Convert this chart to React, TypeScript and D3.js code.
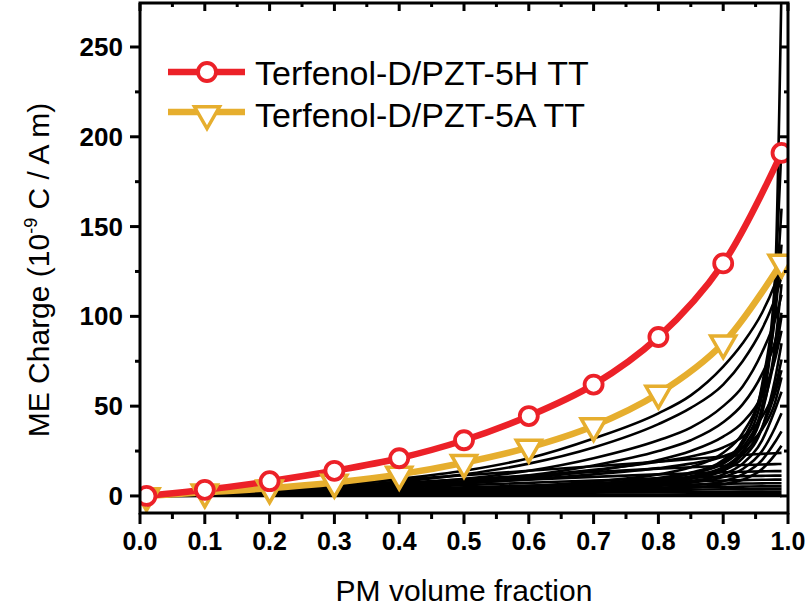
import React from "react";
import * as d3 from "d3";

// ---- data ----
const fracX = [0.01, 0.1, 0.2, 0.3, 0.4, 0.5, 0.6, 0.7, 0.8, 0.9, 0.99];
const pzt5H = [0, 3.4, 8.2, 14, 21, 31, 44.5, 62, 88.5, 129.5, 191];
const pzt5A = [0, 2, 4.3, 7.5, 12, 18.5, 27, 39, 57, 85, 130];

const gridX = [0.01, 0.1, 0.2, 0.3, 0.4, 0.5, 0.6, 0.7, 0.8, 0.85, 0.9, 0.93, 0.96, 0.98, 0.99];
const gradual1 = [0, 1.5, 3.5, 6, 9.5, 14, 21, 32, 46, 56, 72, 85, 102, 118, 128];
const gradual2 = [0, 1.3, 3, 5, 8, 12, 18, 27, 40, 49, 62, 75, 93, 110, 122];
const gradual3 = [0, 1.1, 2.5, 4, 6.5, 9.5, 14, 21, 31, 38, 50, 61, 80, 98, 112];
const gradual4 = [0, 1, 2.2, 3.5, 5.5, 8, 11.5, 17, 25, 31, 41, 51, 68, 86, 102];
const gradual5 = [0, 0.9, 2, 3, 4.7, 7, 10, 14, 20, 25, 33, 41, 56, 76, 92];
const medium1 = [0, 1.2, 2.6, 4.2, 6, 8.2, 11, 14.5, 19, 22, 27, 33, 44, 60, 76];
const medium2 = [0, 1, 2.2, 3.6, 5.2, 7, 9.3, 12, 15.5, 18, 22, 27, 37, 52, 66];
const steep1 = [0, 0.4, 0.9, 1.4, 2, 2.8, 4, 5.5, 8, 10, 15, 24, 50, 120, 285];
const steep2 = [0, 0.5, 1.1, 1.7, 2.5, 3.5, 5, 7, 10, 13, 20, 31, 62, 120, 195];
const steep3 = [0, 0.5, 1, 1.6, 2.3, 3.2, 4.5, 6.5, 9.5, 12.5, 19, 29, 56, 105, 160];
const steep4 = [0, 0.6, 1.2, 1.9, 2.8, 4, 5.5, 8, 12, 16, 24, 35, 60, 100, 140];
const steep5 = [0, 0.4, 0.8, 1.3, 1.9, 2.7, 3.8, 5.3, 8, 11, 16, 25, 46, 84, 118];
const steep6 = [0, 0.5, 1, 1.5, 2.2, 3, 4.3, 6, 9, 12.5, 18, 27, 48, 78, 100];
const steep7 = [0, 0.3, 0.7, 1.1, 1.6, 2.3, 3.3, 4.6, 7, 9.5, 14, 21, 38, 65, 85];
const steep8 = [0, 0.4, 0.9, 1.4, 2, 2.8, 4, 5.5, 8, 10.5, 15.5, 23, 38, 57, 70];
const steep9 = [0, 0.3, 0.6, 1, 1.5, 2.1, 3, 4.2, 6.2, 8.2, 12, 18, 31, 48, 58];
const steep10 = [0, 0.3, 0.6, 1, 1.4, 2, 2.8, 3.9, 5.6, 7.4, 10.5, 15, 25, 38, 46];
const steep11 = [0, 0.2, 0.5, 0.8, 1.1, 1.6, 2.2, 3, 4.4, 5.8, 8.2, 12, 20, 30, 36];
const steep12 = [0, 0.2, 0.4, 0.6, 0.9, 1.2, 1.7, 2.4, 3.5, 4.6, 6.5, 9, 15, 23, 28];
const flat1 = [0, 2, 4, 6.5, 9, 11.5, 14, 16.5, 19, 20.5, 22, 22.8, 23.4, 23.8, 24];
const flat2 = [0, 1.6, 3.3, 5.2, 7.2, 9.3, 11.3, 13.3, 15.2, 16, 16.8, 17.2, 17.5, 17.7, 17.8];
const flat3 = [0, 1.3, 2.7, 4.2, 5.8, 7.5, 9, 10.6, 12, 12.6, 13.2, 13.5, 13.7, 13.8, 13.8];
const flat4 = [0, 1.1, 2.2, 3.4, 4.7, 6, 7.3, 8.6, 9.8, 10.3, 10.8, 11, 11.2, 11.3, 11.3];
const flat5 = [0, 0.9, 1.8, 2.8, 3.8, 4.8, 5.8, 6.8, 7.8, 8.2, 8.6, 8.8, 9, 9.1, 9.1];
const flat6 = [0, 0.7, 1.4, 2.1, 2.9, 3.7, 4.5, 5.3, 6, 6.4, 6.7, 6.9, 7, 7.1, 7.1];
const flat7 = [0, 0.5, 1, 1.6, 2.2, 2.8, 3.4, 4, 4.6, 4.9, 5.1, 5.2, 5.3, 5.3, 5.3];
const flat8 = [0, 0.4, 0.8, 1.2, 1.6, 2, 2.5, 2.9, 3.3, 3.5, 3.7, 3.8, 3.8, 3.9, 3.9];
const flat9 = [0, 0.25, 0.5, 0.75, 1, 1.25, 1.5, 1.8, 2.1, 2.2, 2.3, 2.4, 2.4, 2.4, 2.4];
const flat10 = [0, 0.1, 0.2, 0.3, 0.4, 0.5, 0.6, 0.7, 0.8, 0.85, 0.9, 0.9, 0.9, 0.9, 0.9];
const flat11 = [0, 0, 0, 0, 0, 0, 0, 0, 0, 0, 0, 0, 0, 0, 0];

const blackCurves = [
  gradual1, gradual2, gradual3, gradual4, gradual5, medium1, medium2,
  steep1, steep2, steep3, steep4, steep5, steep6, steep7, steep8, steep9, steep10, steep11, steep12,
  flat1, flat2, flat3, flat4, flat5, flat6, flat7, flat8, flat9, flat10, flat11,
];

const xTicks = [0, 0.1, 0.2, 0.3, 0.4, 0.5, 0.6, 0.7, 0.8, 0.9, 1.0];
const xMinor = [0.05, 0.15, 0.25, 0.35, 0.45, 0.55, 0.65, 0.75, 0.85, 0.95];
const yTicks = [0, 50, 100, 150, 200, 250];
const yMinor = [25, 75, 125, 175, 225];

const seriesNames = ["Terfenol-D/PZT-5H TT", "Terfenol-D/PZT-5A TT"];
const RED = "#EC2128";
const GOLD = "#E6AE2E";

export default function App() {
  const L = 140, R = 788, T = 3, B = 513;
  const x = d3.scaleLinear().domain([0, 1]).range([L, R]);
  const y = d3.scaleLinear().domain([-9.5, 274.5]).range([B, T]);

  const line = d3
    .line<[number, number]>()
    .x((d) => x(d[0]))
    .y((d) => y(d[1]))
    .curve(d3.curveMonotoneX);

  const smooth = d3
    .line<[number, number]>()
    .x((d) => x(d[0]))
    .y((d) => y(d[1]))
    .curve(d3.curveCatmullRom.alpha(0.5));

  const redPts = fracX.map((v, i) => [v, pzt5H[i]] as [number, number]);
  const goldPts = fracX.map((v, i) => [v, pzt5A[i]] as [number, number]);

  const tri = (cx: number, cy: number, w: number) => {
    const h = w * 0.87;
    return `M${cx - w / 2},${cy - h / 3}L${cx + w / 2},${cy - h / 3}L${cx},${cy + (2 * h) / 3}Z`;
  };

  const font = "'Liberation Sans', Arial, sans-serif";

  return (
    <svg
      width={805}
      height={612}
      style={{ position: "absolute", left: 0, top: 0, background: "#fff" }}
      fontFamily={font}
    >
      <defs>
        <clipPath id="plot">
          <rect x={L} y={T} width={R - L} height={B - T} />
        </clipPath>
      </defs>
      <rect x={0} y={0} width={805} height={612} fill="#fff" />

      <g clipPath="url(#plot)">
        {blackCurves.map((c, i) => (
          <path
            key={i}
            d={line(gridX.map((v, j) => [v, c[j]] as [number, number])) || ""}
            fill="none"
            stroke="#000"
            strokeWidth={2.6}
          />
        ))}
        <path d={smooth(goldPts) || ""} fill="none" stroke={GOLD} strokeWidth={6.5} />
        <path d={smooth(redPts) || ""} fill="none" stroke={RED} strokeWidth={6.5} />
        {goldPts.map((p, i) => (
          <path key={"g" + i} d={tri(x(p[0]), y(p[1]), 25)} fill="#fff" stroke={GOLD} strokeWidth={3.5} />
        ))}
        {redPts.map((p, i) => (
          <circle key={"r" + i} cx={x(p[0])} cy={y(p[1])} r={9} fill="#fff" stroke={RED} strokeWidth={3.8} />
        ))}
      </g>

      {/* frame */}
      <rect x={L} y={T} width={R - L} height={B - T} fill="none" stroke="#000" strokeWidth={3} />

      {/* x ticks bottom (out) and top (in) */}
      {xTicks.map((t) => (
        <g key={"xt" + t}>
          <line x1={x(t)} x2={x(t)} y1={B} y2={B + 11} stroke="#000" strokeWidth={3} />
          <line x1={x(t)} x2={x(t)} y1={T} y2={T + 8} stroke="#000" strokeWidth={3} />
          <text x={x(t)} y={550} textAnchor="middle" fontWeight="bold" fontSize={25}>
            {t.toFixed(1)}
          </text>
        </g>
      ))}
      {xMinor.map((t) => (
        <g key={"xm" + t}>
          <line x1={x(t)} x2={x(t)} y1={B} y2={B + 6} stroke="#000" strokeWidth={3} />
          <line x1={x(t)} x2={x(t)} y1={T} y2={T + 4} stroke="#000" strokeWidth={3} />
        </g>
      ))}

      {/* y ticks left (out) and right (in) */}
      {yTicks.map((t) => (
        <g key={"yt" + t}>
          <line x1={L - 10} x2={L} y1={y(t)} y2={y(t)} stroke="#000" strokeWidth={3} />
          <line x1={R - 8} x2={R} y1={y(t)} y2={y(t)} stroke="#000" strokeWidth={3} />
          <text x={123} y={y(t) + 9} textAnchor="end" fontWeight="bold" fontSize={26}>
            {t}
          </text>
        </g>
      ))}
      {yMinor.map((t) => (
        <g key={"ym" + t}>
          <line x1={L - 5} x2={L} y1={y(t)} y2={y(t)} stroke="#000" strokeWidth={3} />
          <line x1={R - 4} x2={R} y1={y(t)} y2={y(t)} stroke="#000" strokeWidth={3} />
        </g>
      ))}

      {/* axis titles */}
      <text x={464} y={601} textAnchor="middle" fontSize={30}>
        PM volume fraction
      </text>
      <text transform="translate(49,270) rotate(-90)" textAnchor="middle" fontSize={30}>
        ME Charge (10
        <tspan dy={-12} fontSize={18}>-9</tspan>
        <tspan dy={12}> C / A m)</tspan>
      </text>

      {/* legend */}
      <line x1={168} x2={245} y1={72} y2={72} stroke={RED} strokeWidth={6.5} />
      <circle cx={207} cy={72} r={9} fill="#fff" stroke={RED} strokeWidth={3.8} />
      <text x={255} y={85} fontSize={34}>{seriesNames[0]}</text>
      <line x1={168} x2={245} y1={112} y2={112} stroke={GOLD} strokeWidth={6.5} />
      <path d={tri(207, 114, 25)} fill="#fff" stroke={GOLD} strokeWidth={3.5} />
      <text x={255} y={127} fontSize={34}>{seriesNames[1]}</text>
    </svg>
  );
}
